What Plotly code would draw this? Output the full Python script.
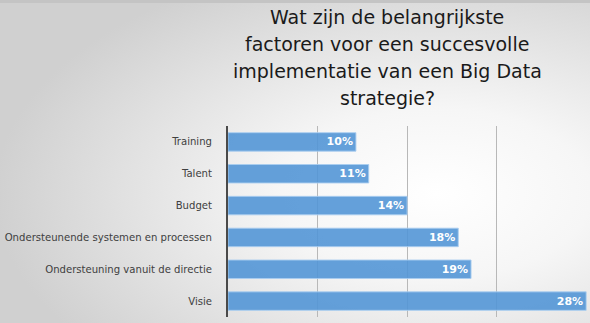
import base64
import plotly.graph_objects as go

# Survey results: share of respondents per success factor (%)
factors = [
    "Training",
    "Talent",
    "Budget",
    "Ondersteunende systemen en processen",
    "Ondersteuning vanuit de directie",
    "Visie",
]
shares = [10, 11, 14, 18, 19, 28]
grid_steps = [7, 14, 21]

title_lines = [
    "Wat zijn de belangrijkste",
    "factoren voor een succesvolle",
    "implementatie van een Big Data",
    "strategie?",
]

W, H = 590, 323
L, T, B = 228, 126, 6
PH = H - T - B
PW = W - L

# Soft radial backdrop: white centre fading to grey edges
bg_svg = f"""<svg xmlns='http://www.w3.org/2000/svg' width='{W}' height='{H}'>
<defs><radialGradient id='g' cx='0.74' cy='0.6' r='0.75' gradientUnits='objectBoundingBox'>
<stop offset='0' stop-color='#ffffff'/><stop offset='0.35' stop-color='#f6f6f6'/>
<stop offset='1' stop-color='#d0d0d0'/></radialGradient></defs>
<rect width='{W}' height='{H}' fill='url(#g)'/>
<rect width='{W}' height='3' fill='#c4c4c4'/>
</svg>"""
bg_uri = "data:image/svg+xml;base64," + base64.b64encode(bg_svg.encode()).decode()

fig = go.Figure(
    go.Bar(
        x=shares,
        y=factors,
        orientation="h",
        marker=dict(color="rgba(83,150,214,0.9)",
                    line=dict(color="rgba(170,205,240,0.9)", width=1)),
        texttemplate="%{x}%",
        textposition="inside",
        insidetextanchor="end",
        textangle=0,
        textfont=dict(family="DejaVu Sans", size=11, color="white", weight="bold"),
        constraintext="none",
        width=0.58,
    )
)

fig.add_layout_image(
    dict(source=bg_uri, xref="paper", yref="paper", x=-L / PW, y=1 + T / PH,
         sizex=W / PW, sizey=H / PH, xanchor="left", yanchor="top",
         sizing="stretch", layer="below")
)

# Title, one line per annotation for exact line spacing
for i, line in enumerate(title_lines):
    fig.add_annotation(
        text=line,
        xref="paper", yref="paper",
        x=(387 - L) / PW, y=1 + (T - 17 - 27 * i) / PH,
        xanchor="center", yanchor="middle",
        showarrow=False,
        font=dict(family="DejaVu Sans", size=19, color="#1a1a1a"),
    )

fig.update_layout(
    width=W, height=H,
    margin=dict(l=L, r=0, t=T, b=B, autoexpand=False),
    paper_bgcolor="rgba(0,0,0,0)",
    plot_bgcolor="rgba(0,0,0,0)",
    showlegend=False,
    xaxis=dict(range=[0, 28.3], tickvals=grid_steps, showticklabels=False,
               showgrid=True, gridcolor="#b8b8b8", gridwidth=1,
               zeroline=False, showline=False, fixedrange=True),
    yaxis=dict(autorange="reversed", showline=True, linecolor="#4a4a4a",
               linewidth=2, ticks="", ticklabelstandoff=12, automargin=False,
               tickfont=dict(family="DejaVu Sans", size=10.1, color="#404040")),
)

fig.write_html("out.html")
